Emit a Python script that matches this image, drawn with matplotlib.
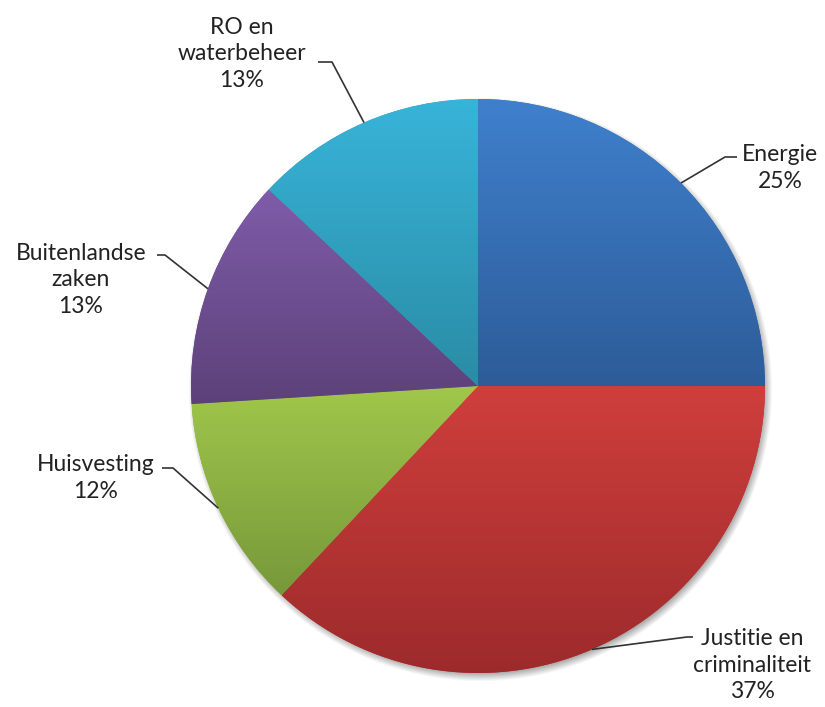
import numpy as np
import matplotlib as mpl
mpl.use('Agg')
import matplotlib.pyplot as plt

# share per beleidsterrein
labels = ["Energie", "Justitie en\ncriminaliteit", "Huisvesting",
          "Buitenlandse\nzaken", "RO en\nwaterbeheer"]
values = [25, 37, 12, 13, 13]

top_colors = ["#3f80cd", "#cf3f3c", "#a1c74b", "#7f5ca9", "#38b4d9"]
bottom_colors = ["#2d5c98", "#9c2a2b", "#77983a", "#5c4179", "#2a8ca5"]

W, H = 825, 707
CX, CY, R = 478, 386, 287

# label block centre, elbow and end of the leader (pixel coords, y down)
label_pos = [(780, 168), (752, 665), (96, 478), (81, 280), (242, 54)]
elbows = [((725, 157), (737, 157)),
          ((687, 637), (693, 637)),
          ((173, 468), (162, 468)),
          ((165, 255), (157, 255)),
          ((332, 62), (318, 62))]


def flip(p):
    return p[0], H - p[1]


fig = plt.figure(figsize=(W / 100, H / 100), dpi=100)
ax = fig.add_axes([0, 0, 1, 1])

wedges, _ = ax.pie(values, startangle=90, counterclock=False,
                   center=(CX, H - CY), radius=R,
                   wedgeprops=dict(linewidth=0, facecolor="none"))

# soft shadow under the pie
yy, xx = np.mgrid[0:H, 0:W]
d = np.hypot(xx - (CX + 2), (H - yy) - (H - CY - 3))
sh = np.zeros((H, W, 4))
sh[..., 3] = np.clip((R + 5 - d) / 9, 0, 1) * 0.35
ax.imshow(sh, extent=[0, W, 0, H], origin="upper", zorder=0.5)

for w, c0, c1 in zip(wedges, top_colors, bottom_colors):
    verts = w.get_patch_transform().transform(w.get_path().vertices)
    x0, x1 = verts[:, 0].min(), verts[:, 0].max()
    y0, y1 = verts[:, 1].min(), verts[:, 1].max()
    a = np.array(mpl.colors.to_rgb(c0))
    b = np.array(mpl.colors.to_rgb(c1))
    t = np.linspace(0, 1, 256)[:, None]
    grad = (a * (1 - t) + b * t)[:, None, :]
    # solid base so the clipped edges blend
    w.set_facecolor(tuple((a + b) / 2))
    w.set_zorder(1)
    im = ax.imshow(grad, extent=[x0, x1, y0, y1], origin="upper",
                   aspect="auto", interpolation="bilinear", zorder=2)
    im.set_clip_path(w)

for w, lab, v, pos, (e1, e2) in zip(wedges, labels, values, label_pos, elbows):
    mid = np.deg2rad((w.theta1 + w.theta2) / 2)
    anchor = (CX + R * np.cos(mid), (H - CY) + R * np.sin(mid))
    pts = [anchor, flip(e1), flip(e2)]
    ax.plot([p[0] for p in pts], [p[1] for p in pts], color="#333333",
            lw=1.2, zorder=3, solid_capstyle="butt")
    ax.text(*flip(pos), f"{lab}\n{v}%", ha="center", va="center",
            fontsize=16.5, family="Lato", color="#222222",
            linespacing=1.35, zorder=4)

ax.set_xlim(0, W)
ax.set_ylim(0, H)
ax.set_aspect("equal")
ax.axis("off")
fig.savefig("out.png", dpi=100, facecolor="white")
